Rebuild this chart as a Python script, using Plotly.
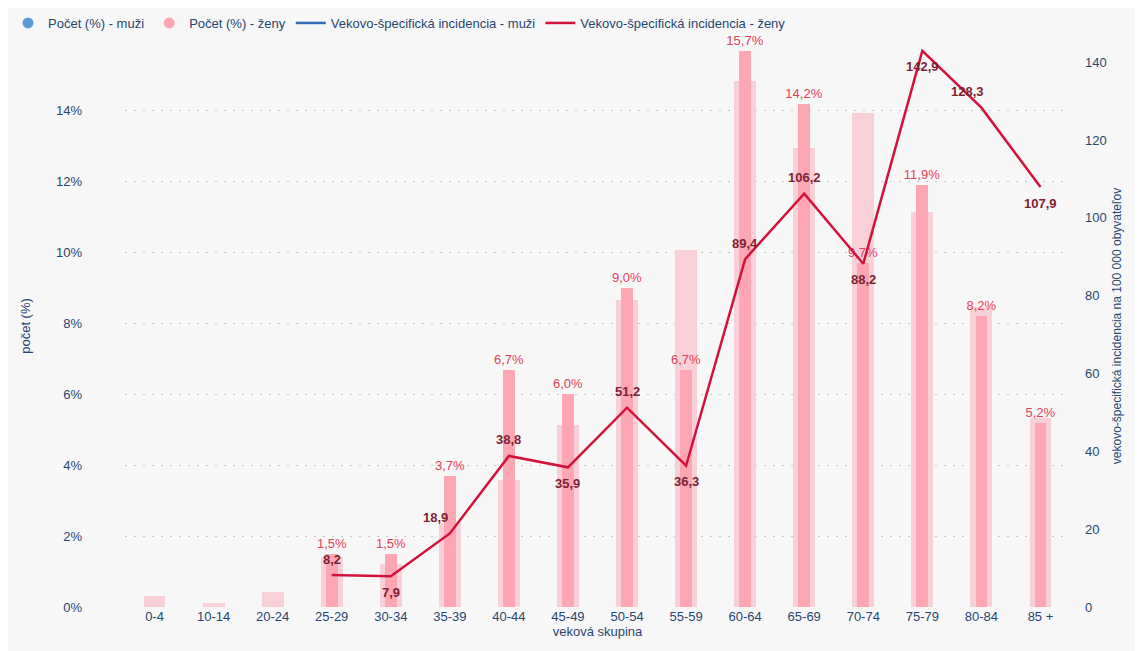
import plotly.graph_objects as go

# vekové skupiny
skupiny = ['0-4', '10-14', '20-24', '25-29', '30-34', '35-39', '40-44', '45-49',
           '50-54', '55-59', '60-64', '65-69', '70-74', '75-79', '80-84', '85 +']

# počet (%) - široké svetlé stĺpce
pocet_muzi = [0.3, 0.1, 0.42, 1.4, 1.2, 2.37, 3.58, 5.14, 8.66, 10.08, 14.85, 12.95,
              13.94, 11.15, 8.47, 5.33]
# počet (%) - ženy (úzke stĺpce s popiskami)
pocet_zeny = [None, None, None, 1.5, 1.5, 3.7, 6.7, 6.0, 9.0, 6.7, 15.7, 14.2,
              9.7, 11.9, 8.2, 5.2]
# vekovo-špecifická incidencia - ženy (na 100 000 obyvateľov)
incidencia_zeny = [None, None, None, 8.2, 7.9, 18.9, 38.8, 35.9, 51.2, 36.3, 89.4, 106.2,
                   88.2, 142.9, 128.3, 107.9]
# kde je popisok bodu: hore / dole
pozicie_popisov = [None, None, None, 'hore', 'dole', 'hore', 'hore', 'dole',
                   'hore', 'dole', 'hore', 'hore', 'dole', 'dole', 'hore', 'dole']

TEXT = '#27466e'
FONT = 'Liberation Sans, Arial, sans-serif'


def fmt(v):
    return '' if v is None else f'{v:.1f}'.replace('.', ',')


fig = go.Figure()

fig.add_trace(go.Bar(
    x=skupiny, y=pocet_muzi, width=0.37, marker_color='#fad0d8',
    marker_line_width=0, showlegend=False, hoverinfo='skip'))

fig.add_trace(go.Bar(
    x=skupiny, y=pocet_zeny, width=0.2, marker_color='#ffa6b5',
    marker_line_width=0, showlegend=False,
    text=[fmt(v) + '%' if v is not None else '' for v in pocet_zeny],
    textposition='outside', cliponaxis=False, constraintext='none',
    textfont=dict(color='#e2405c', size=13, family=FONT)))

fig.add_trace(go.Scatter(
    x=skupiny, y=incidencia_zeny, yaxis='y2', mode='lines',
    line=dict(color='#d3123c', width=2.5), showlegend=False, cliponaxis=False))

# popisky čiary
for sk, v, poz in zip(skupiny, incidencia_zeny, pozicie_popisov):
    if v is None:
        continue
    fig.add_annotation(
        x=sk, y=v, yref='y2', text='<b>' + fmt(v) + '</b>', showarrow=False,
        yshift=16 if poz == 'hore' else -16,
        xshift=-14 if sk in ('80-84', '35-39') else 0,
        font=dict(color='#7d1f33', size=13, family=FONT))

# legenda
fig.add_trace(go.Scatter(x=[None], y=[None], mode='markers', name='Počet (%) - muži',
                         marker=dict(color='#5b9bd9', size=11, symbol='circle')))
fig.add_trace(go.Scatter(x=[None], y=[None], mode='markers', name='Počet (%) - ženy',
                         marker=dict(color='#ffa6b5', size=11, symbol='circle')))
fig.add_trace(go.Scatter(x=[None], y=[None], mode='lines',
                         name='Vekovo-špecifická incidencia - muži',
                         line=dict(color='#2f6db5', width=2.5)))
fig.add_trace(go.Scatter(x=[None], y=[None], mode='lines',
                         name='Vekovo-špecifická incidencia - ženy',
                         line=dict(color='#d3123c', width=2.5)))

fig.update_layout(
    width=1143, height=651,
    margin=dict(l=117, r=81, t=37, b=52),
    paper_bgcolor='#f7f7f7', plot_bgcolor='#f7f7f7',
    barmode='overlay', bargap=0,
    font=dict(family=FONT, size=13, color=TEXT),
    legend=dict(orientation='h', xref='container', yref='container', x=0.0, y=1.0,
                xanchor='left', yanchor='top', font=dict(size=13, color=TEXT),
                itemwidth=30, tracegroupgap=0, bgcolor='rgba(0,0,0,0)'),
    xaxis=dict(showgrid=False, zeroline=False, showline=False, ticks='', automargin=False,
               title=dict(text='veková skupina', standoff=2, font=dict(size=13, color=TEXT)),
               tickfont=dict(size=13, color=TEXT)),
    yaxis=dict(range=[0, 15.86], tickvals=[0, 2, 4, 6, 8, 10, 12, 14],
               ticktext=['0%', '2%', '4%', '6%', '8%', '10%', '12%', '14%'],
               showgrid=True, gridcolor='#c8c8c8', griddash='2px,7px', gridwidth=1,
               zeroline=False, showline=False, ticklabelstandoff=42, automargin=False,
               title=dict(text='počet (%)', standoff=22, font=dict(size=13, color=TEXT)),
               tickfont=dict(size=13, color=TEXT)),
    yaxis2=dict(range=[0, 144.4], tickvals=[0, 20, 40, 60, 80, 100, 120, 140],
                overlaying='y', side='right', showgrid=False, zeroline=False,
                showline=False, ticklabelstandoff=14, automargin=False,
                title=dict(text='vekovo-špecifická incidencia na 100 000 obyvateľov',
                           standoff=6, font=dict(size=12, color=TEXT)),
                tickfont=dict(size=13, color=TEXT)),
)

fig.write_html('out.html')
